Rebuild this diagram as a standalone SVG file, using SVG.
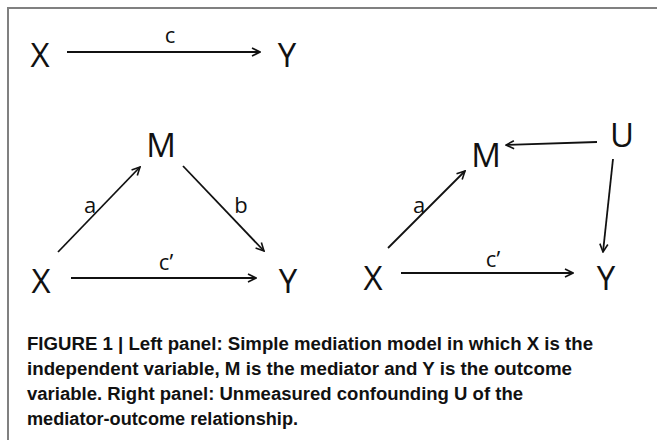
<svg xmlns="http://www.w3.org/2000/svg" width="657" height="440" viewBox="0 0 657 440">
<style>
.n{font-family:"Open Sans","Liberation Sans",sans-serif;font-size:33px;fill:#111;text-anchor:middle}
.l{font-family:"Open Sans","Liberation Sans",sans-serif;font-size:22px;fill:#111;text-anchor:middle}
.e{stroke:#111;stroke-width:1.8;fill:none;marker-end:url(#ah)}
.cap{font-family:"Liberation Sans",Arial,sans-serif;font-weight:bold;font-size:17.5px;fill:#111}
</style>
<defs>
<marker id="ah" viewBox="0 0 10 10" refX="9" refY="5" markerWidth="10" markerHeight="10" markerUnits="userSpaceOnUse" orient="auto">
<path d="M1,1 L9,5 L1,9" fill="none" stroke="#111" stroke-width="1.6"/>
</marker>
</defs>
<rect width="657" height="440" fill="#fff"/>
<path d="M8,440 V8 H657" fill="none" stroke="#808080" stroke-width="2"/>
<g id="top-X"><text class="n" x="40" y="67">X</text></g>
<g id="top-Y"><text class="n" x="287" y="67">Y</text></g>
<g id="left-M"><text class="n" x="161" y="157">M</text></g>
<g id="left-X"><text class="n" x="41" y="293">X</text></g>
<g id="left-Y"><text class="n" x="288" y="293">Y</text></g>
<g id="right-M"><text class="n" x="486" y="167">M</text></g>
<g id="right-U"><text class="n" x="622" y="147">U</text></g>
<g id="right-X"><text class="n" x="373" y="290">X</text></g>
<g id="right-Y"><text class="n" x="606" y="290">Y</text></g>
<g id="connectors">
<line class="e" x1="67" y1="52" x2="260" y2="52"/>
<text class="l" x="170" y="43">c</text>
<line class="e" x1="58" y1="252" x2="140" y2="167"/>
<text class="l" x="90" y="213">a</text>
<line class="e" x1="183" y1="166" x2="264" y2="251"/>
<text class="l" x="241" y="213">b</text>
<line class="e" x1="71" y1="278" x2="256" y2="278"/>
<text class="l" x="166" y="270">c’</text>
<line class="e" x1="597" y1="142" x2="506" y2="145"/>
<line class="e" x1="613" y1="159" x2="603" y2="252"/>
<line class="e" x1="388" y1="248" x2="465" y2="171"/>
<text class="l" x="419" y="213">a</text>
<line class="e" x1="401" y1="273" x2="573" y2="273"/>
<text class="l" x="493" y="267">c’</text>
</g>
<g id="caption">
<text class="cap" x="27" y="350" textLength="566" lengthAdjust="spacingAndGlyphs">FIGURE 1 | Left panel: Simple mediation model in which X is the</text>
<text class="cap" x="27" y="375" textLength="545" lengthAdjust="spacingAndGlyphs">independent variable, M is the mediator and Y is the outcome</text>
<text class="cap" x="27" y="400" textLength="496" lengthAdjust="spacingAndGlyphs">variable. Right panel: Unmeasured confounding U of the</text>
<text class="cap" x="27" y="425" textLength="271" lengthAdjust="spacingAndGlyphs">mediator-outcome relationship.</text>
</g>
</svg>
